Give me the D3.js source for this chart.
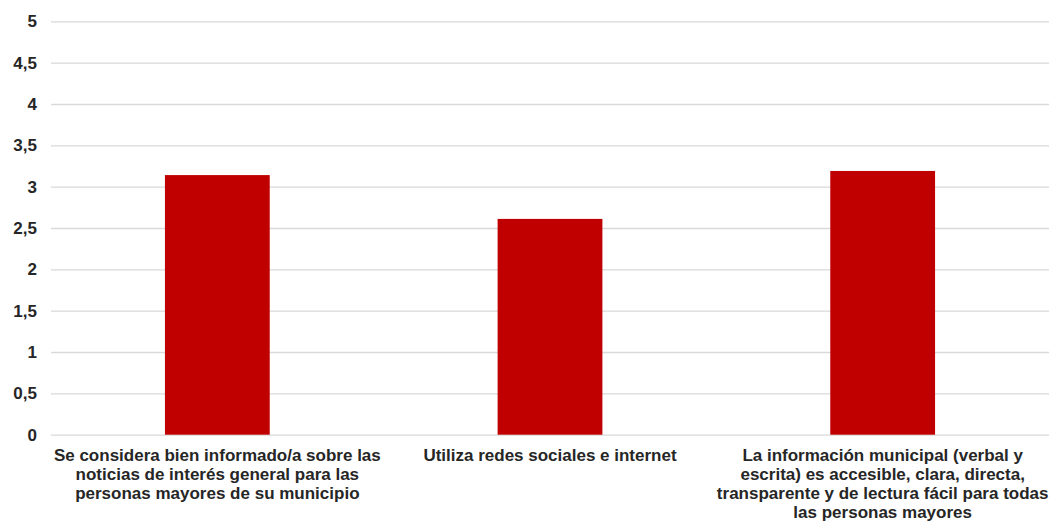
<!DOCTYPE html>
<html><head><meta charset="utf-8">
<script src="https://cdn.jsdelivr.net/npm/d3@7"></script>
<style>body{margin:0;background:#fff}svg{display:block}</style>
</head><body>
<script>
const categories = [
  "Se considera bien informado/a sobre las noticias de interés general para las personas mayores de su municipio",
  "Utiliza redes sociales e internet",
  "La información municipal (verbal y escrita) es accesible, clara, directa, transparente y de lectura fácil para todas las personas mayores"
];
const categoryLines = [
  ["Se considera bien informado/a sobre las", "noticias de interés general para las", "personas mayores de su municipio"],
  ["Utiliza redes sociales e internet"],
  ["La información municipal (verbal y", "escrita) es accesible, clara, directa,", "transparente y de lectura fácil para todas", "las personas mayores"]
];
const values = [3.14, 2.61, 3.19];
const yTicks = [0, 0.5, 1, 1.5, 2, 2.5, 3, 3.5, 4, 4.5, 5];

const W = 1049, H = 522;
const svg = d3.select("body").append("svg").attr("width", W).attr("height", H);
const x = d3.scaleBand().domain(categories).range([51, 1049]).paddingInner(0.685).paddingOuter(0.3425);
const y = d3.scaleLinear().domain([0, 5]).range([434.7, 21.3]);
const fmt = d => String(d).replace(".", ",");
const FONT = "Liberation Sans, Arial, sans-serif";

const yAxis = d3.axisLeft(y).tickValues(yTicks).tickFormat(fmt).tickSize(-(1049 - 51)).tickPadding(14);
const gy = svg.append("g").attr("transform", "translate(51,0)").call(yAxis);
gy.select(".domain").remove();
gy.selectAll(".tick line").attr("stroke", "#d9d9d9").attr("stroke-width", 1.3);
gy.selectAll(".tick text").attr("fill", "#262626").attr("font-family", FONT)
  .attr("font-weight", "bold").attr("font-size", 17);

svg.append("g").selectAll("rect").data(values).join("rect")
  .attr("x", (d, i) => x(categories[i]))
  .attr("width", x.bandwidth())
  .attr("y", d => y(d))
  .attr("height", d => y(0) - y(d))
  .attr("fill", "#c00000");

const xAxis = d3.axisBottom(x).tickSize(0).tickFormat("").tickPadding(0);
const gx = svg.append("g").attr("transform", `translate(0,${y(0)})`).call(xAxis);
gx.select(".domain").remove();
gx.selectAll(".tick").each(function(d, i) {
  const t = d3.select(this).append("text")
    .attr("fill", "#262626").attr("font-family", FONT)
    .attr("font-weight", "bold").attr("font-size", 17).attr("text-anchor", "middle");
  categoryLines[i].forEach((ln, j) => {
    t.append("tspan").attr("x", 0).attr("y", 26 + j * 19).text(ln);
  });
});
</script>
</body></html>
